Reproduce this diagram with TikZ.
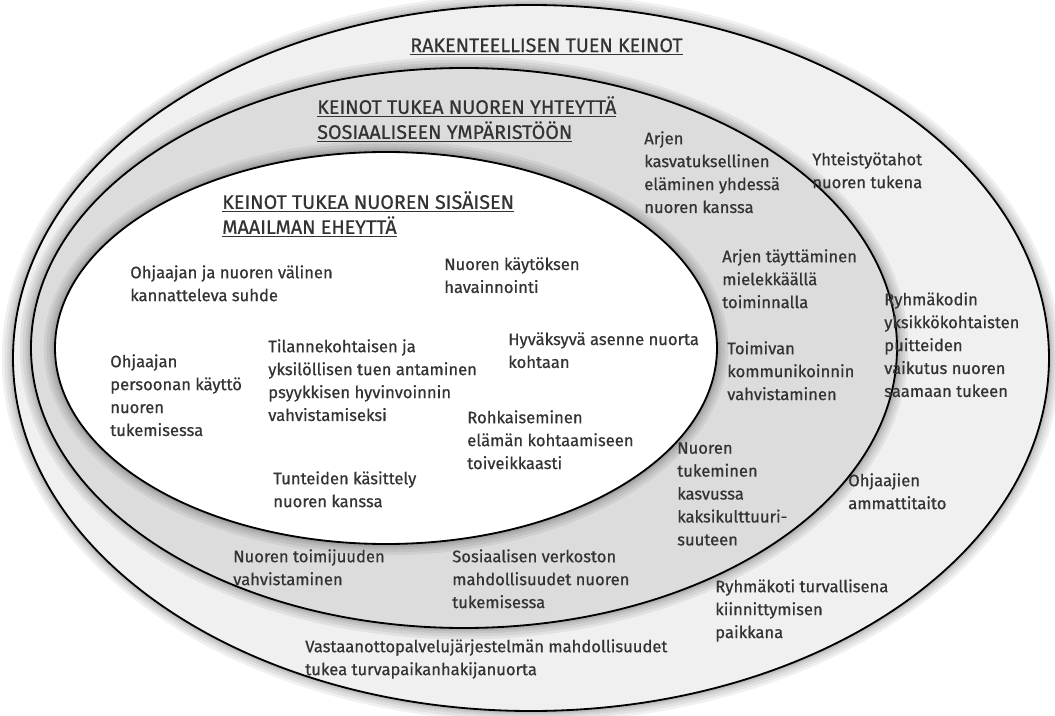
\documentclass[tikz,border=0pt]{standalone}
\usepackage{fontspec}
\setmainfont{Fira Sans}[UprightFeatures={FakeBold=0.6}]
\definecolor{ringouter}{HTML}{F0F0F0}
\definecolor{ringmid}{HTML}{DCDCDC}
\definecolor{inktext}{HTML}{333333}
\begin{document}
\begin{tikzpicture}[x=0.025cm,y=-0.025cm,
    item/.style={anchor=north west,inner sep=0pt,align=left,text=inktext,
      font=\fontsize{11.8}{16.3}\selectfont},
    head/.style={item,font=\fontsize{14}{17.8}\selectfont},
    halo/.style={line width=#1,black,opacity=0.06}]
\useasboundingbox (0,0) rectangle (1055,716);

% outer ring
\foreach \w in {16pt,12pt,8pt,5pt,3pt}
  \draw[halo=\w] (531,358) ellipse [x radius=518,y radius=353];
\draw[fill=ringouter,line width=1.3pt] (531,358) ellipse [x radius=518,y radius=353];

% middle ring
\foreach \w in {16pt,12pt,8pt,5pt,3pt}
  \draw[halo=\w] (464,348) ellipse [x radius=433,y radius=280];
\draw[fill=ringmid,line width=1.3pt] (464,348) ellipse [x radius=433,y radius=280];

% inner ring
\foreach \w in {16pt,12pt,8pt,5pt,3pt}
  \draw[halo=\w] (386,348) ellipse [x radius=331,y radius=196];
\draw[fill=white,line width=1.3pt] (386,348) ellipse [x radius=331,y radius=196];

% headings
\node[head] (rakenne) at (410,38) {\underline{RAKENTEELLISEN TUEN KEINOT}};
\node[head] (sosiaali) at (317,96) {\underline{KEINOT TUKEA NUOREN YHTEYTTÄ}\\
  \underline{SOSIAALISEEN YMPÄRISTÖÖN}};
\node[head] (sisainen) at (222,191) {\underline{KEINOT TUKEA NUOREN SISÄISEN}\\
  \underline{MAAILMAN EHEYTTÄ}};

% inner ellipse
\node[item] (suhde) at (130,265) {Ohjaajan ja nuoren välinen\\kannatteleva suhde};
\node[item] (havainto) at (444,257) {Nuoren käytöksen\\havainnointi};
\node[item] (tuki) at (268,339) {Tilannekohtaisen ja\\yksilöllisen tuen antaminen\\psyykkisen hyvinvoinnin\\vahvistamiseksi};
\node[item] (persoona) at (110,354) {Ohjaajan\\persoonan käyttö\\nuoren\\tukemisessa};
\node[item] (asenne) at (508,332) {Hyväksyvä asenne nuorta\\kohtaan};
\node[item] (rohkaisu) at (467,410) {Rohkaiseminen\\elämän kohtaamiseen\\toiveikkaasti};
\node[item] (tunteet) at (273,471) {Tunteiden käsittely\\nuoren kanssa};

% middle ring
\node[item] (toimijuus) at (233,549) {Nuoren toimijuuden\\vahvistaminen};
\node[item] (verkosto) at (452,549) {Sosiaalisen verkoston\\mahdollisuudet nuoren\\tukemisessa};
\node[item] (arki) at (644,131) {Arjen\\kasvatuksellinen\\eläminen yhdessä\\nuoren kanssa};
\node[item] (toiminta) at (722,249) {Arjen täyttäminen\\mielekkäällä\\toiminnalla};
\node[item] (kommunikointi) at (727,341) {Toimivan\\kommunikoinnin\\vahvistaminen};
\node[item] (kulttuuri) at (677,442) {Nuoren\\tukeminen\\kasvussa\\kaksikulttuuri-\\suuteen};

% outer ring
\node[item] (vastaanotto) at (305,639) {Vastaanottopalvelujärjestelmän mahdollisuudet\\tukea turvapaikanhakijanuorta};
\node[item] (yhteistyo) at (812,152) {Yhteistyötahot\\nuoren tukena};
\node[item] (puitteet) at (884,292) {Ryhmäkodin\\yksikkökohtaisten\\puitteiden\\vaikutus nuoren\\saamaan tukeen};
\node[item] (ammatti) at (848,473) {Ohjaajien\\ammattitaito};
\node[item] (ryhmakoti) at (715,579) {Ryhmäkoti turvallisena\\kiinnittymisen\\paikkana};
\end{tikzpicture}
\end{document}
